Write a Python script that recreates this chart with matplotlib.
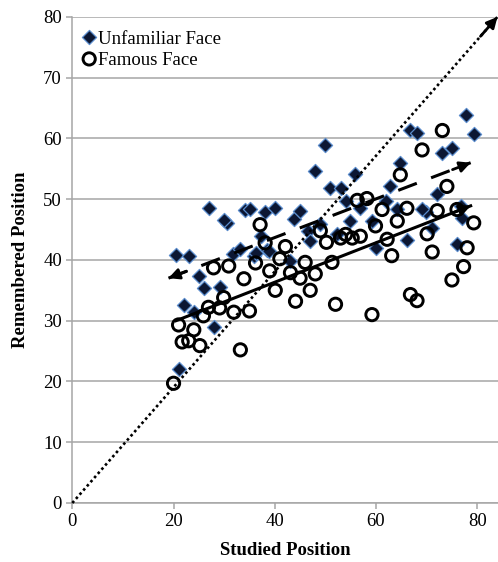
import matplotlib
matplotlib.use("Agg")
import matplotlib.pyplot as plt

plt.rcParams['font.family'] = ['Liberation Serif', 'DejaVu Serif']

# Unfamiliar faces (diamonds)
unf_x = [20.4, 23.0, 21.0, 22.0, 24.0, 25.0, 26.0, 27.9, 29.1, 27.1, 30.6, 30.0, 31.8, 33.2,
         34.2, 35.2, 35.8, 37.2, 38.1, 38.5, 40.1, 43.1, 43.7, 45.0, 46.5, 47.0, 48.0, 49.0,
         50.0, 51.0, 52.2, 53.0, 54.0, 54.9, 55.9, 56.9, 59.2, 59.9, 61.9, 62.8, 64.2, 64.8,
         66.1, 66.8, 68.1, 69.8, 71.1, 72.1, 73.1, 75.0, 76.0, 77.0, 77.7, 79.3, 69.1, 76.7,
         36.2, 38.8]
unf_y = [40.8, 40.7, 22.1, 32.5, 31.4, 37.4, 35.4, 29.0, 35.6, 48.6, 46.1, 46.5, 41.0, 41.8,
         48.2, 48.4, 40.6, 44.0, 47.9, 41.7, 48.5, 39.8, 46.7, 48.0, 44.8, 43.1, 54.6, 45.9,
         58.9, 51.8, 44.3, 51.9, 49.7, 46.4, 54.1, 48.6, 46.4, 41.9, 49.7, 52.1, 48.3, 56.0,
         43.3, 61.4, 60.9, 47.9, 45.3, 50.8, 57.6, 58.4, 42.6, 46.9, 63.9, 60.7, 48.3, 48.9,
         41.2, 41.5]

# Famous faces (open circles)
fam_x = [20.0, 21.0, 21.7, 23.0, 24.0, 25.2, 25.9, 26.9, 29.1, 29.9, 27.9, 30.9, 31.9, 35.0,
         33.2, 33.9, 36.2, 37.1, 38.1, 39.0, 40.1, 41.0, 42.1, 43.1, 44.1, 45.0, 46.0, 47.0,
         48.0, 49.0, 50.2, 51.3, 52.0, 53.0, 54.0, 55.3, 56.3, 56.9, 58.2, 59.2, 59.9, 61.2,
         62.2, 63.1, 64.2, 64.8, 66.1, 66.8, 68.1, 69.1, 70.1, 71.1, 72.1, 73.1, 74.0, 75.0,
         76.0, 77.3, 78.0, 79.3]
fam_y = [19.7, 29.3, 26.5, 26.7, 28.5, 25.9, 30.8, 32.2, 32.1, 33.8, 38.7, 39.0, 31.4, 31.6,
         25.2, 36.9, 39.5, 45.8, 42.8, 38.2, 35.0, 40.2, 42.2, 37.9, 33.2, 37.0, 39.6, 35.0,
         37.7, 44.8, 42.9, 39.6, 32.7, 43.6, 44.2, 43.6, 49.8, 43.9, 50.1, 31.0, 45.6, 48.3,
         43.4, 40.7, 46.4, 54.0, 48.5, 34.3, 33.3, 58.1, 44.3, 41.3, 48.1, 61.3, 52.1, 36.7,
         48.3, 38.9, 42.0, 46.1]

# Reference / trend lines (start, end)
diag_line = [(0, 0), (84, 80)]
unf_trend = [(19.0, 37.0), (78.7, 56.0)]
fam_trend = [(20.5, 30.0), (78.7, 48.9)]

x_ticks = [0, 20, 40, 60, 80]
y_ticks = [0, 10, 20, 30, 40, 50, 60, 70, 80]

fig = plt.figure(figsize=(4.98, 5.62), dpi=100)
ax = fig.add_axes([0.1452, 0.105, 0.8548, 0.865])

ax.set_xlim(0, 84.1)
ax.set_ylim(0, 80)
ax.set_xticks(x_ticks)
ax.set_yticks(y_ticks)
ax.yaxis.grid(True, color='#a6a6a6', linewidth=1.1)
ax.set_axisbelow(True)
for s in ['top', 'right']:
    ax.spines[s].set_visible(False)
for s in ['left', 'bottom']:
    ax.spines[s].set_color('#a6a6a6')
    ax.spines[s].set_linewidth(1.1)
ax.tick_params(axis='both', colors='#a6a6a6', labelcolor='black', labelsize=13.5, length=4, width=1.1)

ax.scatter(unf_x, unf_y, marker='D', s=52, facecolor='#0c1733', edgecolor='#5a8ccc',
           linewidths=0.9, zorder=3, label='Unfamiliar Face')
ax.scatter(fam_x, fam_y, marker='o', s=78, facecolor='none', edgecolor='black',
           linewidths=2.1, zorder=4, label='Famous Face')

def arrow(p_from, p_to):
    ax.annotate('', xy=p_to, xytext=p_from,
                arrowprops=dict(arrowstyle='-|>', lw=2, color='black', mutation_scale=16,
                                shrinkA=0, shrinkB=0),
                annotation_clip=False, zorder=6)

def shorten(a, b, frac):
    return (b[0] - (b[0] - a[0]) * frac, b[1] - (b[1] - a[1]) * frac)

# dotted diagonal
(x0, y0), (x1, y1) = diag_line
ax.plot([x0, x1], [y0, y1], linestyle=(0, (1, 1.1)), color='black', lw=1.9, zorder=5, clip_on=False)
arrow(shorten(diag_line[0], diag_line[1], 0.04), diag_line[1])

# dashed trend (unfamiliar)
(x0, y0), (x1, y1) = unf_trend
ax.plot([x0, x1], [y0, y1], linestyle=(0, (6.5, 5)), color='black', lw=2.2, zorder=5)
arrow(shorten(unf_trend[0], unf_trend[1], 0.06), unf_trend[1])
arrow(shorten(unf_trend[1], unf_trend[0], 0.06), unf_trend[0])

# solid trend (famous)
(x0, y0), (x1, y1) = fam_trend
ax.plot([x0, x1], [y0, y1], linestyle='-', color='black', lw=2.2, zorder=5)
arrow(shorten(fam_trend[0], fam_trend[1], 0.06), fam_trend[1])

ax.set_xlabel('Studied Position', fontsize=13.5, fontweight='bold', labelpad=8)
ax.set_ylabel('Remembered Position', fontsize=13.5, fontweight='bold', labelpad=10)

leg = ax.legend(loc='upper left', bbox_to_anchor=(0.0, 0.995), frameon=False, fontsize=13.5,
                handlelength=0.6, handletextpad=0.15, borderaxespad=0.2, labelspacing=0.25,
                scatteryoffsets=[0.5])

fig.savefig('out.png', dpi=100)
